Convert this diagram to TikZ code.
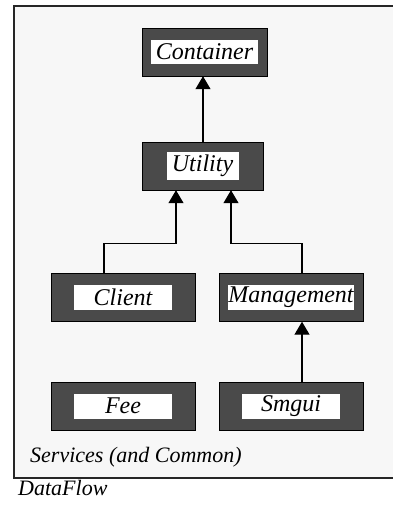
\documentclass[tikz,border=0pt]{standalone}
\usepackage{fontspec}
\setmainfont{Liberation Serif}[ItalicFont={Liberation Serif Italic}]
\usetikzlibrary{arrows.meta}
\definecolor{panel}{HTML}{F7F7F7}
\definecolor{slab}{HTML}{4A4A4A}
\begin{document}
\begin{tikzpicture}
	[x=1pt, y=-1pt,
	modbox/.style={rectangle,draw=black,fill=slab,minimum width=144pt,minimum height=48pt,inner sep=0pt},
	modname/.style={rectangle,fill=white,minimum width=98pt,minimum height=25pt,inner sep=0.5pt,font=\fontsize{24}{26}\selectfont\itshape},
	caption/.style={anchor=base west,inner sep=0pt,font=\fontsize{22}{24}\selectfont\itshape},
	dep/.style={-{Triangle[length=13pt,width=15pt]},line width=1.2pt}]
	\useasboundingbox (0,0) rectangle (392,506);
	\draw [fill=panel,draw=black!85,line width=1.5pt] (14,6) rectangle (398,478);
	\node (Container) at (204.5, 52) [modbox, minimum width=125pt] {};
	\node (Utility) at (202.5, 166) [modbox, minimum width=121pt] {};
	\node (Client) at (123, 297.5) [modbox] {};
	\node (Management) at (291, 297.5) [modbox] {};
	\node (Fee) at (123, 406) [modbox] {};
	\node (Smgui) at (291, 406) [modbox] {};
	\node (ContainerName) at (Container) [modname, minimum width=107pt, minimum height=24pt] {Container};
	\node (UtilityName) at (Utility) [modname, minimum width=72pt, minimum height=28pt] {Utility};
	\node (ClientName) at (Client) [modname] {Client};
	\node (ManagementName) at (Management) [modname, minimum width=126pt] {Management};
	\node (FeeName) at (Fee) [modname] {Fee};
	\node (SmguiName) at (Smgui) [modname] {Smgui};
	\node (services) at (30, 462) [caption] {Services (and Common)};
	\node (dataflow) at (18, 495) [caption] {DataFlow};
	\draw [dep] ([xshift=0.5pt]Utility.north) to ([xshift=-1.5pt]Container.south);
	\draw [dep] ([xshift=-19pt]Client.north) -- ++(0,-30) -| ([xshift=-26.5pt]Utility.south);
	\draw [dep] ([xshift=11pt]Management.north) -- ++(0,-30) -| ([xshift=28.5pt]Utility.south);
	\draw [dep] ([xshift=11pt]Smgui.north) to ([xshift=11pt]Management.south);
\end{tikzpicture}
\end{document}
